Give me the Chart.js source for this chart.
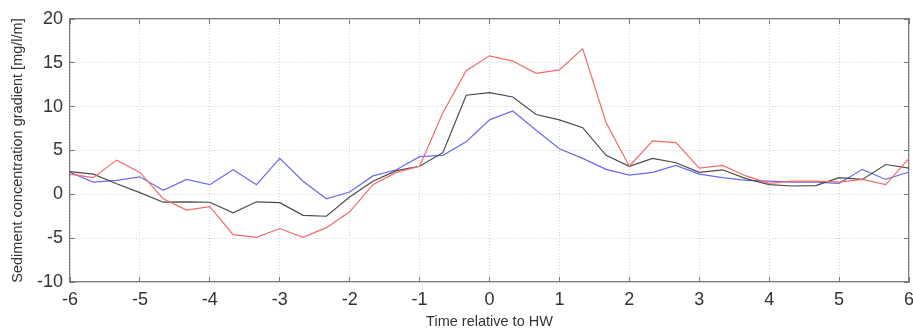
<!DOCTYPE html>
<html>
<head>
<meta charset="utf-8">
<script src="https://cdn.jsdelivr.net/npm/chart.js@4/dist/chart.umd.min.js"></script>
<style>
html,body{margin:0;padding:0;background:#fff;}
#wrap{width:913px;height:335px;position:relative;}
</style>
</head>
<body>
<div id="wrap"><canvas id="c" width="913" height="335"></canvas></div>
<script>
const timeHours = [-6,-5.667,-5.333,-5,-4.667,-4.333,-4,-3.667,-3.333,-3,-2.667,-2.333,-2,-1.667,-1.333,-1,-0.667,-0.333,0,0.333,0.667,1,1.333,1.667,2,2.333,2.667,3,3.333,3.667,4,4.333,4.667,5,5.333,5.667,6];
const redSeries = [2.3,1.9,3.9,2.5,-0.5,-1.8,-1.4,-4.6,-4.9,-3.9,-4.9,-3.8,-2.0,1.1,2.5,3.2,9.3,14.1,15.8,15.2,13.8,14.2,16.6,8.2,3.2,6.1,5.9,3.0,3.3,2.1,1.25,1.5,1.5,1.4,1.7,1.1,4.1];
const blackSeries = [2.6,2.3,1.2,0.2,-0.9,-0.85,-0.9,-2.1,-0.85,-0.95,-2.4,-2.5,-0.3,1.5,2.7,3.2,4.75,11.3,11.6,11.1,9.1,8.5,7.6,4.45,3.2,4.1,3.6,2.5,2.8,1.8,1.1,0.95,1.0,1.9,1.7,3.4,3.0];
const blueSeries = [2.5,1.4,1.6,2.0,0.45,1.7,1.1,2.8,1.1,4.1,1.5,-0.5,0.27,2.1,2.8,4.3,4.45,6.0,8.5,9.5,7.3,5.2,4.1,2.85,2.2,2.5,3.3,2.3,1.9,1.6,1.5,1.4,1.4,1.25,2.85,1.7,2.55];
const xTicks = [-6,-5,-4,-3,-2,-1,0,1,2,3,4,5,6];
const yTicks = [-10,-5,0,5,10,15,20];
const xTitle = 'Time relative to HW';
const yTitle = 'Sediment concentration gradient [mg/l/m]';

function pts(ys){ return timeHours.map((x,i)=>({x:x,y:ys[i]})); }

const fam = '"Liberation Sans", Arial, sans-serif';
const boxColor = '#7a7a7a';
const gridColor = '#d0d0d0';

new Chart(document.getElementById('c'), {
  type:'line',
  data:{datasets:[
    {data:pts(redSeries), borderColor:'#f26a6a', borderWidth:1.2, pointRadius:0, tension:0},
    {data:pts(blackSeries), borderColor:'#4a4a4a', borderWidth:1.2, pointRadius:0, tension:0},
    {data:pts(blueSeries), borderColor:'#6a6af2', borderWidth:1.2, pointRadius:0, tension:0}
  ]},
  options:{
    responsive:false, animation:false,
    layout:{padding:{top:19,right:4,left:0,bottom:0}},
    plugins:{legend:{display:false}, tooltip:{enabled:false}},
    scales:{
      x:{type:'linear', position:'bottom', min:-6, max:6,
        afterBuildTicks(s){ s.ticks = xTicks.map(v=>({value:v})); },
        afterFit(s){ s.height = 53; s.paddingLeft = 0; s.paddingRight = 0; },
        grid:{color:gridColor, drawTicks:true, tickLength:-5, tickColor:boxColor, tickBorderDash:[], lineWidth:1},
        border:{display:true, color:boxColor, width:1.2, dash:[1,2]},
        ticks:{color:'#333', font:{family:fam, size:18}, padding:12, maxRotation:0, autoSkip:false},
        title:{display:true, text:xTitle, color:'#333', font:{family:fam, size:14.5}, padding:{top:0,bottom:4}}
      },
      x2:{type:'linear', position:'top', min:-6, max:6,
        afterBuildTicks(s){ s.ticks = xTicks.map(v=>({value:v})); },
        afterFit(s){ s.height = 0; s.paddingLeft = 0; s.paddingRight = 0; },
        grid:{drawOnChartArea:false, drawTicks:true, tickLength:-5, tickColor:boxColor, tickBorderDash:[]},
        border:{display:true, color:boxColor, width:1.2},
        ticks:{display:false}
      },
      y:{type:'linear', position:'left', min:-10, max:20,
        afterBuildTicks(s){ s.ticks = yTicks.map(v=>({value:v})); },
        afterFit(s){ s.width = 70; s.paddingTop = 0; s.paddingBottom = 0; },
        grid:{color:gridColor, drawTicks:true, tickLength:-5, tickColor:boxColor, tickBorderDash:[], lineWidth:1},
        border:{display:true, color:boxColor, width:1.2, dash:[1,2]},
        ticks:{color:'#333', font:{family:fam, size:18}, padding:12, autoSkip:false},
        title:{display:true, text:yTitle, color:'#333', font:{family:fam, size:14.5}, padding:{top:9,bottom:0}}
      },
      y2:{type:'linear', position:'right', min:-10, max:20,
        afterBuildTicks(s){ s.ticks = yTicks.map(v=>({value:v})); },
        afterFit(s){ s.width = 0; s.paddingTop = 0; s.paddingBottom = 0; },
        grid:{drawOnChartArea:false, drawTicks:true, tickLength:-5, tickColor:boxColor, tickBorderDash:[]},
        border:{display:true, color:boxColor, width:1.2},
        ticks:{display:false}
      }
    }
  }
});
</script>
</body>
</html>
